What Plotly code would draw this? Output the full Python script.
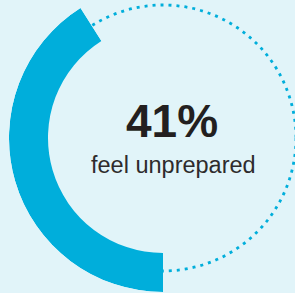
import math
import plotly.graph_objects as go

# ---- data ----
share_pct = [41]
headline = ["41%"]
subtitle = ["feel unprepared"]

# ---- style / geometry (pixels) ----
W, H = 295, 293
CX, CY = 163, 138          # ring centre
R_OUT, R_IN = 154, 115     # ring radii
R_DOT = 133                # dotted guide circle radius
BG = "#e1f4f9"
BLUE = "#00aedb"
TXT = "#231f20"

span = share_pct[0] / 100 * 360          # degrees covered by the arc
end_angle = 270.0                          # arc ends at 6 o'clock
start_angle = end_angle - span             # arc starts upper-left

# polar sector bbox (unit circle, includes origin)
sy1 = math.sin(math.radians(start_angle))
dom_x = [(CX - R_OUT) / W, CX / W]
dom_y = [(H - (CY + R_OUT)) / H, (H - (CY - sy1 * R_OUT)) / H]

fig = go.Figure()
fig.add_trace(go.Barpolar(
    r=[R_OUT - R_IN], base=[R_IN],
    theta=[start_angle + span / 2], width=[span],
    marker=dict(color=BLUE, line=dict(width=0)),
    hoverinfo="skip", showlegend=False,
))

fig.update_layout(
    width=W, height=H,
    margin=dict(l=0, r=0, t=0, b=0),
    paper_bgcolor=BG, plot_bgcolor=BG,
    showlegend=False,
    polar=dict(
        domain=dict(x=dom_x, y=dom_y),
        sector=[start_angle, end_angle],
        bgcolor="rgba(0,0,0,0)",
        radialaxis=dict(visible=False, range=[0, R_OUT], showgrid=False, showline=False),
        angularaxis=dict(visible=False, showgrid=False, showline=False, rotation=0,
                         direction="counterclockwise"),
    ),
    shapes=[dict(
        type="circle", xref="paper", yref="paper", layer="below",
        x0=(CX - R_DOT) / W, x1=(CX + R_DOT) / W,
        y0=(H - (CY + R_DOT)) / H, y1=(H - (CY - R_DOT)) / H,
        line=dict(color=BLUE, width=2.8, dash="3px,5px"),
        fillcolor="rgba(0,0,0,0)",
    )],
    annotations=[
        dict(text="<b>" + headline[0] + "</b>", x=172 / W, y=(H - 120.5) / H,
             xref="paper", yref="paper", xanchor="center", yanchor="middle",
             showarrow=False,
             font=dict(family="Liberation Sans, Arial, sans-serif", size=46, color=TXT)),
        dict(text=subtitle[0], x=173 / W, y=(H - 164.5) / H,
             xref="paper", yref="paper", xanchor="center", yanchor="middle",
             showarrow=False,
             font=dict(family="Liberation Sans, Arial, sans-serif", size=23.5, color="#2e2b2c")),
    ],
)

fig.write_html(
    "out.html",
    config={"displayModeBar": False, "staticPlot": True},
    post_script="document.body.style.margin='0';document.body.style.padding='0';"
                "document.body.style.overflow='hidden';"
                "document.documentElement.style.overflow='hidden';",
)
